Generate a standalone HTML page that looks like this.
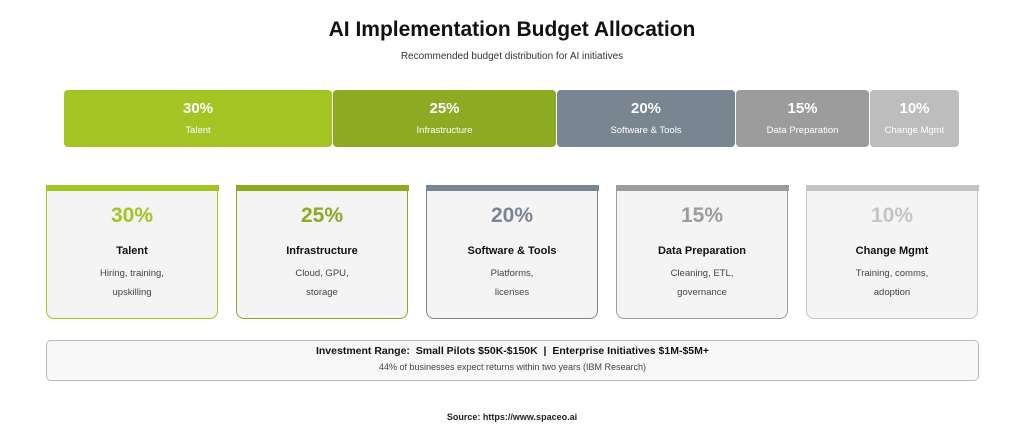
<!DOCTYPE html><html><head><style>
body{margin:0;width:1024px;height:435px;background:#fff;font-family:"Liberation Sans",sans-serif;position:relative;overflow:hidden}
.a{position:absolute}
.t{left:0;width:1024px;text-align:center}
.seg{position:absolute;top:90px;height:57px;border-radius:4px;color:#fff;text-align:center}
.seg b{display:block;font-size:15px;margin-top:10px}
.seg span{display:block;font-size:9.5px;margin-top:8px}
.card{position:absolute;top:185px;width:170px;height:133px;background:#f4f4f5;border:1.5px solid;border-top:none;border-radius:3px 3px 8px 8px;text-align:center}
.card .s{position:absolute;left:-1.5px;right:-1.5px;top:0;height:6px}
.card .p{margin-top:19px;font-size:21px;font-weight:bold}
.card .n{margin-top:17px;font-size:11px;font-weight:bold;color:#111}
.card .d{margin-top:7px;font-size:9.5px;color:#444;line-height:19px}
</style></head><body>
<div class="a t" style="top:18px;font-size:21px;font-weight:bold;color:#111">AI Implementation Budget Allocation</div>
<div class="a t" style="top:51px;font-size:10px;color:#333">Recommended budget distribution for AI initiatives</div>
<div class="seg" style="left:64px;width:268px;background:#a4c424"><b>30%</b><span>Talent</span></div>
<div class="seg" style="left:333px;width:223px;background:#8caa22"><b>25%</b><span>Infrastructure</span></div>
<div class="seg" style="left:557px;width:178px;background:#7a8592"><b>20%</b><span>Software &amp; Tools</span></div>
<div class="seg" style="left:736px;width:133px;background:#9c9c9c"><b>15%</b><span>Data Preparation</span></div>
<div class="seg" style="left:870px;width:89px;background:#bdbdbd"><b>10%</b><span>Change Mgmt</span></div>

<div class="card" style="left:46px;border-color:#a4c424"><div class="s" style="background:#a4c424"></div><div class="p" style="color:#a4c424">30%</div><div class="n">Talent</div><div class="d">Hiring, training,<br>upskilling</div></div>
<div class="card" style="left:236px;border-color:#8caa22"><div class="s" style="background:#8caa22"></div><div class="p" style="color:#8caa22">25%</div><div class="n">Infrastructure</div><div class="d">Cloud, GPU,<br>storage</div></div>
<div class="card" style="left:426px;border-color:#7a8592"><div class="s" style="background:#7a8592"></div><div class="p" style="color:#7a8592">20%</div><div class="n">Software &amp; Tools</div><div class="d">Platforms,<br>licenses</div></div>
<div class="card" style="left:616px;border-color:#9c9c9c"><div class="s" style="background:#9c9c9c"></div><div class="p" style="color:#9c9c9c">15%</div><div class="n">Data Preparation</div><div class="d">Cleaning, ETL,<br>governance</div></div>
<div class="card" style="left:806px;border-color:#c4c4c4"><div class="s" style="background:#c4c4c4"></div><div class="p" style="color:#c4c4c4">10%</div><div class="n">Change Mgmt</div><div class="d">Training, comms,<br>adoption</div></div>

<div class="a" style="left:46px;top:340px;width:931px;height:39px;border:1px solid #bbb;border-radius:5px;background:#f8f8f8;text-align:center">
<div style="margin-top:4px;font-size:10.5px;font-weight:bold;color:#111">Investment Range:&nbsp; Small Pilots $50K-$150K &nbsp;|&nbsp; Enterprise Initiatives $1M-$5M+</div>
<div style="margin-top:5px;font-size:9px;color:#444">44% of businesses expect returns within two years (IBM Research)</div></div>
<div class="a t" style="top:412px;font-size:9px;font-weight:bold;color:#222">Source: https://www.spaceo.ai</div>
</body></html>
